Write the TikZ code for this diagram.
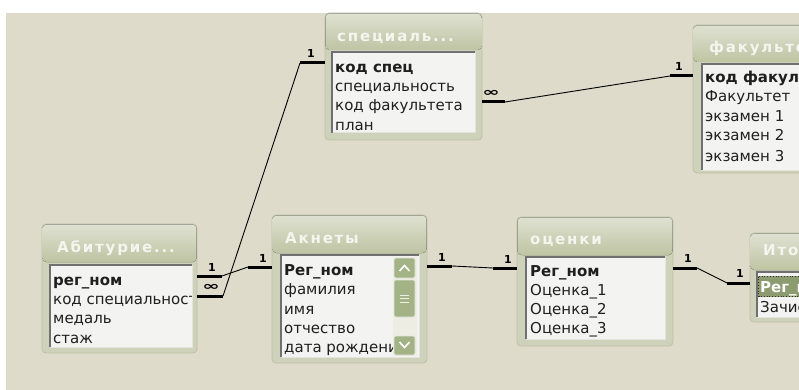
\documentclass[tikz,border=0pt]{standalone}
\usepackage{fontspec}
\setmainfont{DejaVu Sans}
\newfontfamily\ttlfont[LetterSpace=12]{DejaVu Sans}
\usetikzlibrary{fit}
\definecolor{bg}{HTML}{DEDBCB}
\definecolor{frame}{HTML}{CFD2BA}
\definecolor{frameedge}{HTML}{BCC0A6}
\definecolor{ttop}{HTML}{DFE1D1}
\definecolor{tbot}{HTML}{BEC4A3}
\definecolor{listbg}{HTML}{F3F3F1}
\definecolor{sunk}{HTML}{707070}
\definecolor{lite}{HTML}{E4E4DC}
\definecolor{ttext}{HTML}{F4F5EE}
\definecolor{sel}{HTML}{8D9B70}
\definecolor{scrollg}{HTML}{A3B386}
\definecolor{track}{HTML}{EDEDE4}
\tikzset{
  tablebox/.style={draw=frameedge, fill=frame, rounded corners=4pt, inner sep=0pt, line width=0.8pt},
  titlebar/.style={top color=ttop, bottom color=tbot, rounded corners=4pt},
  listarea/.style={fill=listbg},
  titletext/.style={anchor=base west, text=ttext, font=\ttlfont\bfseries\fontsize{15}{15}\selectfont, inner sep=0pt},
  row/.style={anchor=base west, font=\fontsize{15}{15}\selectfont, text=black!88, inner sep=0pt},
  keyrow/.style={row, font=\bfseries\fontsize{15}{15}\selectfont},
  stub/.style={line width=3pt},
  link/.style={line width=0.9pt},
  card/.style={font=\bfseries\fontsize{11}{11}\selectfont, inner sep=0pt},
  inf/.style={font=\bfseries\fontsize{11}{11}\selectfont, inner sep=0pt},
  sbtn/.style={fill=scrollg, draw=white!70!scrollg, rounded corners=2pt, line width=0.6pt},
}
\newcommand\sunken[4]{%
  \fill[listarea] (#1,#2) rectangle (#3,#4);
  \draw[lite, line width=1pt] (#3,#2) -- (#3,#4) -- (#1,#4);
  \draw[sunk, line width=1.5pt] (#1,#4) -- (#1,#2) -- (#3,#2);
}
\begin{document}
\begin{tikzpicture}[x=1pt,y=-1pt]
\useasboundingbox (0,0) rectangle (799,390);
\clip (0,0) rectangle (799,390);
\fill[white] (0,0) rectangle (799,390);
\fill[bg] (6,13) rectangle (799,390);

% ---------- Абитуриент ----------
\node[tablebox, fit={(42,224)(197,353)}] (abit) {};
\fill[titlebar] (42.5,224.5) rectangle (196.5,262);
\sunken{50}{265}{192}{347}
\begin{scope}
\clip (42,224) rectangle (197,262);
\node[titletext] (abit-t) at (57,252) {Абитурие...};
\end{scope}
\begin{scope}
\clip (51,265) rectangle (191,347);
\node[keyrow] (abit-1) at (53,285) {рег\_ном};
\node[row] (abit-2) at (53,304) {код специальности};
\node[row] (abit-3) at (53,323) {медаль};
\node[row] (abit-4) at (53,343) {стаж};
\end{scope}

% ---------- Акнеты ----------
\node[tablebox, fit={(272,215)(427,363)}] (ank) {};
\fill[titlebar] (272.5,215.5) rectangle (426.5,253);
\sunken{281}{255}{419}{357}
\begin{scope}
\clip (272,215) rectangle (427,253);
\node[titletext] (ank-t) at (285,243) {Акнеты};
\end{scope}
\begin{scope}
\clip (282,255) rectangle (393,357);
\node[keyrow] (ank-1) at (284,275) {Рег\_ном};
\node[row] (ank-2) at (284,294) {фамилия};
\node[row] (ank-3) at (284,314) {имя};
\node[row] (ank-4) at (284,333) {отчество};
\node[row] (ank-5) at (284,352) {дата рождения};
\end{scope}
% scrollbar
\fill[track] (393,257) rectangle (417,356);
\path[sbtn] (394,258) rectangle (415,278);
\draw[white, line width=1.6pt] (399.5,271) -- (404.5,265.5) -- (409.5,271);
\path[sbtn] (394,280) rectangle (415,317);
\draw[white!80!scrollg, line width=0.7pt] (400,295)--(409,295) (400,298.5)--(409,298.5) (400,302)--(409,302);
\path[sbtn] (394,336) rectangle (415,355);
\draw[white, line width=1.6pt] (399.5,342) -- (404.5,347.5) -- (409.5,342);

% ---------- специальности ----------
\node[tablebox, fit={(325,13)(482,140)}] (spec) {};
\fill[titlebar] (325.5,13.5) rectangle (481.5,50);
\sunken{332}{52}{475}{133}
\begin{scope}
\clip (325,13) rectangle (482,50);
\node[titletext] (spec-t) at (337,42) {специаль...};
\end{scope}
\begin{scope}
\clip (333,52) rectangle (474,133);
\node[keyrow] (spec-1) at (335,73) {код спец};
\node[row] (spec-2) at (335,92) {специальность};
\node[row] (spec-3) at (335,111) {код факультета};
\node[row] (spec-4) at (335,131) {план};
\end{scope}

% ---------- оценки ----------
\node[tablebox, fit={(517,217)(673,346)}] (ocen) {};
\fill[titlebar] (517.5,217.5) rectangle (672.5,255);
\sunken{526}{257}{665}{339}
\begin{scope}
\clip (517,217) rectangle (673,255);
\node[titletext] (ocen-t) at (530,244) {оценки};
\end{scope}
\begin{scope}
\clip (527,257) rectangle (664,339);
\node[keyrow] (ocen-1) at (530,276) {Рег\_ном};
\node[row] (ocen-2) at (530,295) {Оценка\_1};
\node[row] (ocen-3) at (530,314) {Оценка\_2};
\node[row] (ocen-4) at (530,333) {Оценка\_3};
\end{scope}

% ---------- факультеты ----------
\node[tablebox, fit={(693,25)(840,173)}] (fak) {};
\fill[titlebar] (693.5,25.5) rectangle (839.5,62);
\sunken{702}{64}{830}{170}
\begin{scope}
\clip (693,25) rectangle (799,62);
\node[titletext] (fak-t) at (709,53) {факультеты};
\end{scope}
\begin{scope}
\clip (703,64) rectangle (799,170);
\node[keyrow] (fak-1) at (705,83) {код факультета};
\node[row] (fak-2) at (705,102) {Факультет};
\node[row] (fak-3) at (705,122) {экзамен 1};
\node[row] (fak-4) at (705,141) {экзамен 2};
\node[row] (fak-5) at (705,161) {экзамен 3};
\end{scope}

% ---------- Итоги ----------
\node[tablebox, fit={(750,233)(840,322)}] (itog) {};
\fill[titlebar] (750.5,233.5) rectangle (839.5,270);
\sunken{757}{272}{830}{317}
\begin{scope}
\clip (750,233) rectangle (799,270);
\node[titletext] (itog-t) at (763,255) {Итоги};
\end{scope}
\begin{scope}
\clip (758,272) rectangle (799,317);
\fill[sel] (758,276) rectangle (830,297);
\draw[black!80, dotted, line width=0.8pt] (758.5,276.5) rectangle (830,296.5);
\node[keyrow, text=white] (itog-1) at (760,292) {Рег\_ном};
\node[row] (itog-2) at (760,312) {Зачислен};
\end{scope}

% ---------- connectors ----------
% Абитуриент.рег_ном -- Акнеты.Рег_ном (1:1)
\coordinate (c1a) at (abit.east |- 0,276);
\coordinate (c1b) at (222,276);
\coordinate (c1c) at (248,267);
\coordinate (c1d) at (ank.west |- 0,267);
\draw[stub] (c1a) -- (c1b);
\draw[link] (c1b) -- (c1c);
\draw[stub] (c1c) -- (c1d);
\node[card] (l1a) at (212,267) {1};
\node[card] (l1b) at (263,258) {1};

% Абитуриент.код специальности -- специальности.код спец (∞:1)
\coordinate (c2a) at (abit.east |- 0,296);
\coordinate (c2b) at (223,296);
\coordinate (c2c) at (300,63);
\coordinate (c2d) at (spec.west |- 0,63);
\draw[stub] (c2a) -- (c2b);
\draw[link] (c2b) -- (c2c);
\draw[stub] (c2c) -- (c2d);
\node[inf] (l2a) at (211,287) {\scalebox{1.9}[1.1]{∞}};
\node[card] (l2b) at (311,53) {1};

% Акнеты -- оценки (1:1)
\coordinate (c3a) at (ank.east |- 0,266);
\coordinate (c3b) at (452,266);
\coordinate (c3c) at (493,268);
\coordinate (c3d) at (ocen.west |- 0,268);
\draw[stub] (c3a) -- (c3b);
\draw[link] (c3b) -- (c3c);
\draw[stub] (c3c) -- (c3d);
\node[card] (l3a) at (442,257) {1};
\node[card] (l3b) at (508,259) {1};

% оценки -- Итоги (1:1)
\coordinate (c4a) at (ocen.east |- 0,268);
\coordinate (c4b) at (697,268);
\coordinate (c4c) at (727,283);
\coordinate (c4d) at (itog.west |- 0,283);
\draw[stub] (c4a) -- (c4b);
\draw[link] (c4b) -- (c4c);
\draw[stub] (c4c) -- (c4d);
\node[card] (l4a) at (688,258) {1};
\node[card] (l4b) at (740,273) {1};

% специальности.код факультета -- факультеты (∞:1)
\coordinate (c5a) at (spec.east |- 0,102);
\coordinate (c5b) at (505,102);
\coordinate (c5c) at (670,76);
\coordinate (c5d) at (fak.west |- 0,76);
\draw[stub] (c5a) -- (c5b);
\draw[link] (c5b) -- (c5c);
\draw[stub] (c5c) -- (c5d);
\node[inf] (l5a) at (491,93) {\scalebox{1.9}[1.1]{∞}};
\node[card] (l5b) at (679,66) {1};
\end{tikzpicture}
\end{document}
